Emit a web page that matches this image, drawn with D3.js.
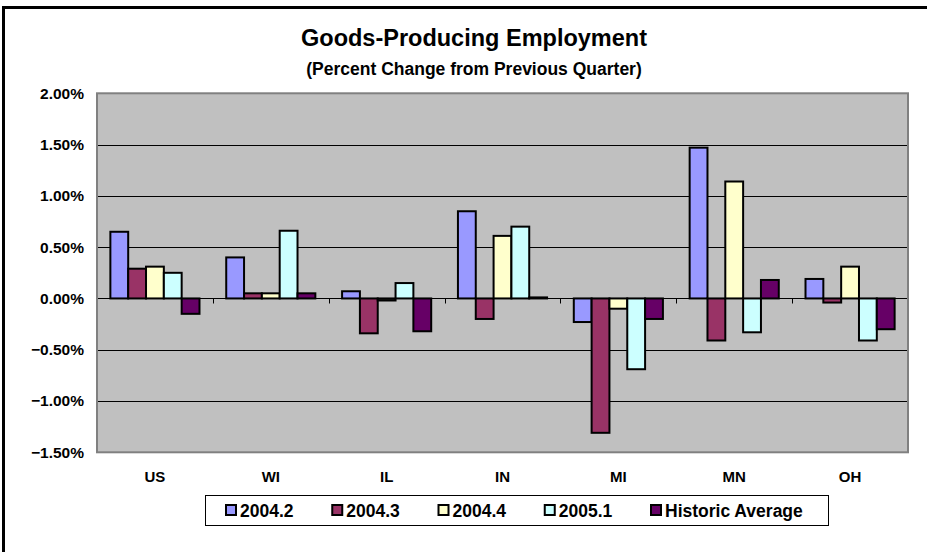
<!DOCTYPE html>
<html>
<head>
<meta charset="utf-8">
<script src="https://cdn.jsdelivr.net/npm/d3@7"></script>
<style>
  html, body { margin: 0; padding: 0; background: #fff; overflow: hidden; }
  svg { display: block; }
  text { font-family: "Liberation Sans", Arial, sans-serif; font-weight: bold; fill: #000; }
</style>
</head>
<body>
<svg id="chart" width="927" height="552"></svg>
<script>
// Regions shown along the category axis
const categories = ["US", "WI", "IL", "IN", "MI", "MN", "OH"];

// Quarterly percent change in goods-producing employment, by series
const seriesNames = ["2004.2", "2004.3", "2004.4", "2005.1", "Historic Average"];
const s2004q2 = [0.0065, 0.0040, 0.0007, 0.0085, -0.0023, 0.0147, 0.0019];
const s2004q3 = [0.0029, 0.0005, -0.0034, -0.0020, -0.0131, -0.0041, -0.0004];
const s2004q4 = [0.0031, 0.0005, -0.0002, 0.0061, -0.0010, 0.0114, 0.0031];
const s2005q1 = [0.0025, 0.0066, 0.0015, 0.0070, -0.0069, -0.0033, -0.0041];
const sHistoric = [-0.0015, 0.0005, -0.0032, 0.0001, -0.0020, 0.0018, -0.0030];
const seriesValues = [s2004q2, s2004q3, s2004q4, s2005q1, sHistoric];
const seriesColors = ["#9999FF", "#993366", "#FFFFCC", "#CCFFFF", "#660066"];

// Value-axis ticks
const yTicks = [-0.015, -0.01, -0.005, 0, 0.005, 0.01, 0.015, 0.02];

const svg = d3.select("#chart");

// Outer chart frame (left and top edges fall inside the page)
svg.append("path")
  .attr("d", "M3.5,560 L3.5,7.5 L935,7.5")
  .attr("fill", "none").attr("stroke", "#000").attr("stroke-width", 3);

const plot = { left: 97, right: 908, top: 93.3, bottom: 452.3 };

const y = d3.scaleLinear()
  .domain([d3.min(yTicks), d3.max(yTicks)])
  .range([plot.bottom, plot.top]);

const x0 = d3.scaleBand()
  .domain(categories)
  .range([plot.left, plot.right])
  .paddingInner(0).paddingOuter(0);

// Excel-style 150% gap width: each group holds 5 bars plus 1.5 bar widths of gap
const barW = x0.bandwidth() / (seriesNames.length + 1.5);
const x1 = d3.scaleBand()
  .domain(seriesNames)
  .range([barW * 0.75, barW * 0.75 + barW * seriesNames.length])
  .padding(0);

// Plot area background
svg.append("rect")
  .attr("x", plot.left).attr("y", plot.top)
  .attr("width", plot.right - plot.left).attr("height", plot.bottom - plot.top)
  .attr("fill", "#C0C0C0");

// Horizontal gridlines
svg.append("g")
  .selectAll("line")
  .data(yTicks.filter(t => t !== 0 && t !== d3.min(yTicks) && t !== d3.max(yTicks)))
  .join("line")
  .attr("x1", plot.left).attr("x2", plot.right)
  .attr("y1", d => Math.round(y(d)) + 0.5).attr("y2", d => Math.round(y(d)) + 0.5)
  .attr("stroke", "#000").attr("stroke-width", 1);

// Bars
const rows = categories.map((c, i) => ({
  category: c,
  values: seriesNames.map((s, j) => ({ series: s, value: seriesValues[j][i], color: seriesColors[j] }))
}));

svg.append("g")
  .selectAll("g")
  .data(rows)
  .join("g")
  .attr("transform", d => `translate(${x0(d.category)},0)`)
  .selectAll("rect")
  .data(d => d.values)
  .join("rect")
  .attr("x", d => x1(d.series))
  .attr("width", x1.bandwidth())
  .attr("y", d => y(Math.max(0, d.value)))
  .attr("height", d => Math.abs(y(d.value) - y(0)))
  .attr("fill", d => d.color)
  .attr("stroke", "#000")
  .attr("stroke-width", 2);

// Category axis along zero, ticks between groups
const zeroY = Math.round(y(0)) + 0.5;
svg.append("line")
  .attr("x1", plot.left).attr("x2", plot.right)
  .attr("y1", zeroY).attr("y2", zeroY)
  .attr("stroke", "#000").attr("stroke-width", 1);

svg.append("g")
  .selectAll("line")
  .data(categories.slice(1))
  .join("line")
  .attr("x1", d => Math.round(x0(d)) + 0.5).attr("x2", d => Math.round(x0(d)) + 0.5)
  .attr("y1", zeroY).attr("y2", zeroY + 5)
  .attr("stroke", "#000").attr("stroke-width", 1);

// Plot border
svg.append("rect")
  .attr("x", plot.left).attr("y", plot.top)
  .attr("width", plot.right - plot.left).attr("height", plot.bottom - plot.top)
  .attr("fill", "none").attr("stroke", "#808080").attr("stroke-width", 2);

// Value axis labels
const yAxis = d3.axisLeft(y)
  .tickValues(yTicks)
  .tickFormat(d3.format(".2%"))
  .tickSize(0)
  .tickPadding(13);
const yg = svg.append("g")
  .attr("transform", `translate(${plot.left},0)`)
  .call(yAxis);
yg.select(".domain").remove();
yg.selectAll("text")
  .attr("font-family", "\"Liberation Sans\", Arial, sans-serif")
  .attr("font-weight", "bold")
  .attr("font-size", 15.5)
  .attr("fill", "#000");

// Category labels below the plot
const xAxis = d3.axisBottom(x0).tickSize(0).tickPadding(0);
const xg = svg.append("g")
  .attr("transform", `translate(0,${plot.bottom})`)
  .call(xAxis);
xg.select(".domain").remove();
xg.selectAll("text")
  .attr("dy", 0)
  .attr("y", 30)
  .attr("font-family", "\"Liberation Sans\", Arial, sans-serif")
  .attr("font-weight", "bold")
  .attr("font-size", 15)
  .attr("fill", "#000");

// Titles
svg.append("text")
  .attr("x", 474).attr("y", 46)
  .attr("text-anchor", "middle")
  .attr("font-size", 23.5)
  .text("Goods-Producing Employment");
svg.append("text")
  .attr("x", 474).attr("y", 75)
  .attr("text-anchor", "middle")
  .attr("font-size", 17.5)
  .text("(Percent Change from Previous Quarter)");

// Legend
const legend = svg.append("g");
legend.append("rect")
  .attr("x", 205.5).attr("y", 495.5)
  .attr("width", 623).attr("height", 30)
  .attr("fill", "#fff").attr("stroke", "#000").attr("stroke-width", 1);

const legendX = d3.scalePoint()
  .domain(seriesNames)
  .range([225, 650]);

const items = legend.selectAll("g.item")
  .data(seriesNames.map((s, j) => ({ name: s, color: seriesColors[j] })))
  .join("g")
  .attr("class", "item")
  .attr("transform", d => `translate(${legendX(d.name)},0)`);

items.append("rect")
  .attr("x", 1).attr("y", 505)
  .attr("width", 10).attr("height", 10)
  .attr("fill", d => d.color)
  .attr("stroke", "#000").attr("stroke-width", 2);

items.append("text")
  .attr("x", 15).attr("y", 516.5)
  .attr("font-size", 17.5)
  .text(d => d.name);
</script>
</body>
</html>
